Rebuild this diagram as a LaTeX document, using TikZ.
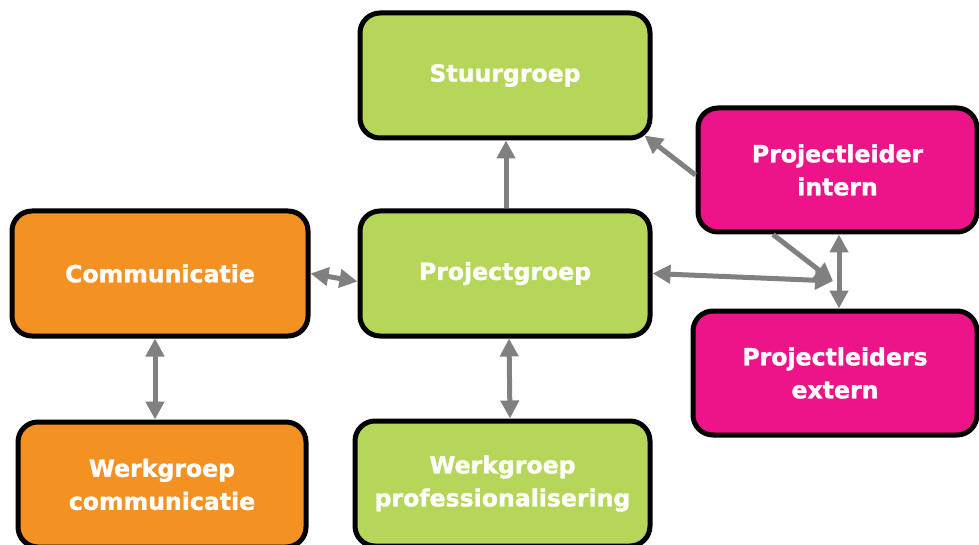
\documentclass[tikz,border=0pt]{standalone}
\usepackage{fontspec}
\setmainfont{DejaVu Sans}
\newfontfamily\boxfont{DejaVu Sans Bold}[FakeBold=1.3]
\usetikzlibrary{arrows.meta}
\definecolor{cgreen}{RGB}{181,214,88}
\definecolor{corange}{RGB}{243,145,35}
\definecolor{cmag}{RGB}{236,20,136}
\definecolor{cgray}{RGB}{128,128,128}
\tikzset{
  box/.style={draw=black, line width=5pt, rounded corners=20pt, inner sep=0pt,
    minimum height=125pt, align=center, text=white,
    font=\boxfont\fontsize{23.6}{33}\selectfont},
  gbox/.style={box, fill=cgreen},
  obox/.style={box, fill=corange},
  mbox/.style={box, fill=cmag},
  con/.style={draw=cgray, line width=5pt},
  tipe/.style={con, -{Triangle[length=18pt,width=18pt]}},
  dbl/.style={con, {Triangle[length=18pt,width=18pt]}-{Triangle[length=18pt,width=18pt]}},
}
\begin{document}
\begin{tikzpicture}[x=1pt,y=-1pt]
\useasboundingbox (0,0) rectangle (979,545);
\node[gbox, minimum width=290pt] (sg) at (505,75.5) {\raisebox{-2pt}{Stuurgroep}};
\node[gbox, minimum width=290pt] (pg) at (505,273.5) {\raisebox{-1pt}{Projectgroep}};
\node[obox, minimum width=296pt] (comm) at (160,273.5) {Communicatie};
\node[obox, minimum width=288pt] (wc) at (162,484.5) {Werkgroep\\communicatie};
\node[gbox, minimum width=295pt] (wp) at (502.5,483.5) {Werkgroep\\professionalisering};
\node[mbox, minimum width=279pt, minimum height=124pt] (pi) at (837.5,170) {Projectleider\\intern};
\node[mbox, minimum width=284pt, minimum height=124pt] (pe) at (835,373) {Projectleiders\\extern};
\coordinate (J) at (833,281);
% connectors
\draw[tipe] ([xshift=1pt]pg.north) -- ([xshift=1pt]sg.south);
\draw[dbl] (comm.east) -- ([yshift=-8pt]pg.west);
\draw[dbl] ([xshift=-5pt]comm.south) -- ([xshift=-7pt]wc.north);
\draw[dbl] ([xshift=4pt]pg.south) -- ([xshift=7.5pt]wp.north);
\draw[tipe] ([yshift=-5pt]pi.west) -- ([shift={(-8pt,5pt)}]sg.south east);
\draw[dbl] (pg.east) -- (J);
\draw[tipe] ([xshift=-64.5pt]pi.south) -- (J);
\draw[dbl] ([xshift=1.5pt]pi.south) -- ([xshift=4pt]pe.north);
\end{tikzpicture}
\end{document}
